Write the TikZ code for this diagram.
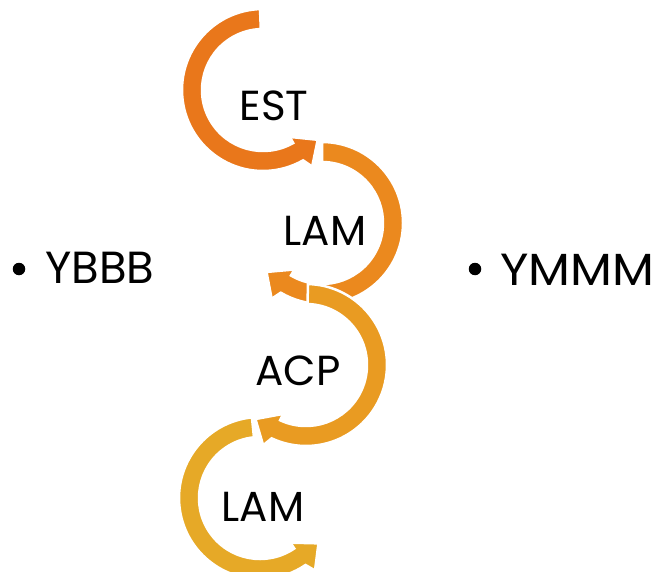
\documentclass[tikz,border=0pt]{standalone}
\usepackage{fontspec}
\setmainfont{Poppins}
\definecolor{cA}{RGB}{233,119,27}
\definecolor{cB}{RGB}{235,137,30}
\definecolor{cC}{RGB}{233,155,34}
\definecolor{cD}{RGB}{230,169,39}
\tikzset{
  arrowband/.style={draw=white, line width=2.5pt, line join=miter},
  lbl/.style={inner sep=0pt, font=\fontsize{42}{42}\selectfont, text=black},
  blbl/.style={inner sep=0pt, anchor=west, font=\fontsize{45}{45}\selectfont, text=black},
  bul/.style={circle, fill=black, inner sep=0pt, minimum size=12.5pt}
}
% #1 cx, #2 cy, #3 start angle, #4 barb angle, #5 tip angle, #6 outer barb angle, #7 colour
\newcommand\carrow[7]{%
  \filldraw[arrowband, fill=#7, shift={(#1,#2)}]
    (#3:81) arc[start angle=#3, end angle=#4, radius=81]
    -- (#6:91) -- (#5:74) -- (#4:54) -- (#4:61)
    arc[start angle=#4, end angle=#3, radius=61] -- cycle;}
\begin{document}
\begin{tikzpicture}[x=1pt, y=1pt]
\useasboundingbox (0,0) rectangle (660,571);
\clip (0,0) rectangle (660,571);
\fill[white] (0,0) rectangle (660,571);
\carrow{263}{481}{92.1}{299.7}{317.7}{302.7}{cA}
\carrow{322}{348}{90}{-120.6}{-138.6}{-123.6}{cB}
\carrow{306}{206}{88.6}{-115.1}{-133.1}{-118.1}{cC}
\carrow{260}{73}{95.7}{304.2}{322.2}{307.2}{cD}
\node[lbl] (est) at (274,465) {EST};
\node[lbl] (lamA) at (325,340) {LAM};
\node[lbl] (acp) at (298,200) {ACP};
\node[lbl] (lamB) at (263,64) {LAM};
\node[bul] (b1) at (19,302) {};
\node[blbl] (ybbb) at (45,303) {YBBB};
\node[bul] (b2) at (475,302) {};
\node[blbl, xscale=1.08] (ymmm) at (500,301) {YMMM};
\end{tikzpicture}
\end{document}
